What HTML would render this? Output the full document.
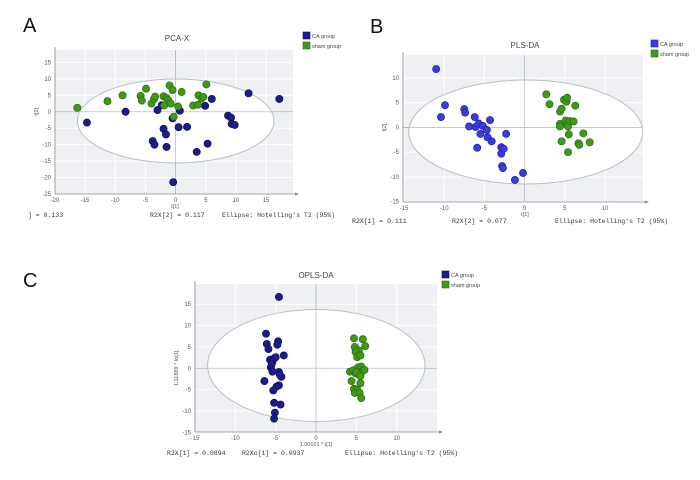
<!DOCTYPE html>
<html><head><meta charset="utf-8"><style>
html,body{margin:0;padding:0;background:#fff;}
svg{display:block;font-family:"Liberation Sans",sans-serif;}
.mono{font-family:"Liberation Mono",monospace;font-size:6.5px;fill:#333;}
</style></head><body>
<svg id="fig" width="700" height="480" viewBox="0 0 700 480"></svg>
<script>
// Panel A (PCA-X) data
const aCaX=[-14.7,-8.3,-3,-2.3,-0.5,0.7,0.5,1.9,-2,-1.6,-3.8,-3.5,-1.5,3.5,5.3,4.9,6,8.7,9.2,9.3,9.8,12.1,17.2,-0.4];
const aCaY=[-3.3,0,0.5,2,-2,0.3,-4.7,-4.6,-5.2,-6.9,-8.9,-10,-10.7,-12.2,-9.7,1.8,3.9,-1.2,-1.8,-3.7,-4,5.6,3.9,-21.4];
const aShX=[-16.3,-11.3,-8.8,-5.8,-5.6,-4.9,-4,-3.6,-3.4,-2,-1.5,-1.2,-1,-0.8,-0.5,-0.3,1,0.4,2.9,3.7,3.8,4.3,4.6,5.1,-1.9];
const aShY=[1.2,3.2,5,4.8,3.4,7,2.5,3.8,4.6,4.7,4.2,3.5,8,2.5,6.6,-1.5,6,1.6,1.9,2.1,5,4,4.5,8.3,1.9];
const aXTicks=[-20,-15,-10,-5,0,5,10,15];
const aYTicks=[15,10,5,0,-5,-10,-15,-20,-25];
// Panel B (PLS-DA) data
const bCaX=[-11,-10.4,-9.9,-7.5,-7.4,-6.9,-6.2,-6.1,-5.9,-5.7,-5.5,-5.2,-4.7,-4.6,-4.3,-4.1,-2.9,-2.9,-2.6,-2.3,-2.8,-2.7,-1.2,-0.2];
const bCaY=[11.8,2.1,4.5,3.7,3,0.2,2.1,0.1,-4.1,0.8,-1.3,0.3,-0.5,-2,1.5,-2.8,-4,-5.3,-4.3,-1.3,-7.8,-8.2,-10.6,-9.2];
const bShX=[2.7,3.1,4.4,4.6,4.4,4.4,4.6,4.9,5.2,5.3,5.1,5.3,5.4,5.5,5.4,5.6,6.1,6.3,6.7,6.8,7.3,8.1];
const bShY=[6.7,4.7,3.2,3.8,0.7,0.2,-2.8,5.6,5.2,6,1.4,0.6,0.2,-1.4,-5,1.3,1.2,4.4,-3.2,-3.5,-1.2,-3];
const bXTicks=[-15,-10,-5,0,5,10];
const bYTicks=[10,5,0,-5,-10,-15];
// Panel C (OPLS-DA) data
const cCaX=[-4.6,-6.2,-6.1,-5.9,-4.7,-4.8,-4,-5.7,-5.2,-5.4,-5,-5.6,-5.4,-4.6,-4.3,-6.4,-4.6,-4.9,-5.3,-5.2,-4.4,-5.1,-5.2,-5.5,-4.5];
const cCaY=[16.7,8.1,5.7,4.5,6.3,5.5,3,2,2.3,1.5,2.6,0.2,-0.8,-0.9,-2,-3,-4,-4.3,-5.2,-8.1,-8.5,-10.4,-11.8,1,-1.5];
const cShX=[4.7,5.8,6.1,4.8,5.3,4.9,5.1,5.5,4.2,4.6,5.2,5.6,5.8,6,4.9,5.3,4.4,5.5,4.7,5.1,4.8,5.4,5.6,5,5.5];
const cShY=[7,6.8,5.2,5,4.2,3.8,2.6,3,-0.8,-0.5,0.2,0.4,-0.6,-0.4,-1.2,-1.5,-3,-3.5,-4.8,-5,-5.8,-5.8,-7,-0.9,-1.8];
const cXTicks=[-15,-10,-5,0,5,10];
const cYTicks=[15,10,5,0,-5,-10,-15];

const NS='http://www.w3.org/2000/svg';
const svg=document.getElementById('fig');
function mk(tag,attrs,parent,txt){const e=document.createElementNS(NS,tag);for(const k in attrs)e.setAttribute(k,attrs[k]);if(txt!==undefined)e.textContent=txt;(parent||svg).appendChild(e);return e;}

function panel(p){
  const g=mk('g',{});
  
  
  const sx=v=>p.x0px+(v-p.xmin)*p.xs;
  const sy=v=>p.y0px-(v-p.ymin)*p.ys;
  // background
  const bg=mk('rect',{x:p.L,y:p.T,width:p.R-p.L,height:p.B-p.T,fill:'#eef0f3'},g);
  
  p.xt.forEach(t=>{mk('line',{x1:sx(t),x2:sx(t),y1:p.T,y2:p.B,stroke:'#fff','stroke-width':1},g);
    const tl=mk('text',{x:sx(t),y:p.B+8,'font-size':6,fill:'#555','text-anchor':'middle'},g,t);
    });
  p.yt.forEach(t=>{mk('line',{x1:p.L,x2:p.R,y1:sy(t),y2:sy(t),stroke:'#fff','stroke-width':1},g);
    const tl=mk('text',{x:p.L-4,y:sy(t)+2,'font-size':6,fill:'#555','text-anchor':'end'},g,t);
    });
  // axes
  mk('line',{x1:p.L,x2:p.R+4,y1:p.B,y2:p.B,stroke:'#888','stroke-width':0.8},g);
  mk('line',{x1:p.L,x2:p.L,y1:p.T-3,y2:p.B,stroke:'#888','stroke-width':0.8},g);
  mk('path',{d:`M${p.R+6} ${p.B} l-4 -1.5 v3z`,fill:'#888'},g);
  mk('line',{x1:sx(0),x2:sx(0),y1:p.T,y2:p.B,stroke:'#a8b0b8','stroke-width':0.8},g);
  mk('line',{x1:p.L,x2:p.R,y1:sy(0),y2:sy(0),stroke:'#a8b0b8','stroke-width':0.8},g);
  // ellipse
  const el=mk('ellipse',{cx:p.ecx,cy:p.ecy,rx:p.erx,ry:p.ery,fill:'#fff',stroke:'#b8c0c4','stroke-width':1},g);
  
  mk('line',{x1:sx(0),x2:sx(0),y1:p.ecy-p.ery,y2:p.ecy+p.ery,stroke:'#b8c4cc','stroke-width':0.8},g);
  mk('line',{x1:p.ecx-p.erx,x2:p.ecx+p.erx,y1:sy(0),y2:sy(0),stroke:'#b8c4cc','stroke-width':0.8},g);
  // points
  p.series.forEach(s=>{
    s.xs.forEach((v,i)=>{
      const c=mk('circle',{cx:sx(v),cy:sy(s.ys[i]),r:3.6,fill:s.col,stroke:s.edge,'stroke-width':0.7},g);
      
      
    });
  });
  // titles
  const tt=mk('text',{x:p.tx,y:p.ty,'font-size':8,fill:'#444','text-anchor':'middle'},g,p.title);
  
  const pl=mk('text',{x:p.lx,y:p.ly,'font-size':20,fill:'#111'},g,p.letter);
  
  const xl=mk('text',{x:p.xlx,y:p.B+14,'font-size':5.5,fill:'#555','text-anchor':'middle'},g,p.xlabel);
  
  const yl=mk('text',{x:0,y:0,'font-size':5.5,fill:'#555','text-anchor':'middle',transform:`translate(${p.L-17},${sy(0)}) rotate(-90)`},g,p.ylabel);
  
  // legend
  p.series.forEach((s,i)=>{
    const r=mk('rect',{x:p.lgx,y:p.lgy+i*10-3,width:7,height:7,fill:s.col,stroke:s.edge,'stroke-width':0.6},g);
    
    const t=mk('text',{x:p.lgx+9,y:p.lgy+i*10+3,'font-size':5.5,fill:'#444'},g,s.label);
    
  });
  p.stats.forEach(st=>{
    const t=mk('text',{x:st[0],y:p.sy,class:'mono'},g,st[1]);
    
  });
}
const navy='#1c1c8c', navyE='#0c0c5c', grn='#3f9a18', grnE='#2a6a10', blue='#3b3be0', blueE='#2020a0';
panel({name:'panel-a-pca',letter:'A',lx:23,ly:32,title:'PCA-X',tx:177,ty:41,
  L:55,R:293,T:50,B:194,xmin:-20,ymin:-25,x0px:55,y0px:194,xs:6.03,ys:3.29,
  ecx:175.7,ecy:121,erx:98.3,ery:42,xt:aXTicks,yt:aYTicks,xlabel:'t[1]',xlx:175,ylabel:'t[2]',
  lgx:303,lgy:35,sy:217,stats:[[28,'] = 0.133'],[150,'R2X[2] = 0.117'],[222,"Ellipse: Hotelling's T2 (95%)"]],
  series:[{xs:aCaX,ys:aCaY,col:navy,edge:navyE,label:'CA group',pname:'ca-point'},{xs:aShX,ys:aShY,col:grn,edge:grnE,label:'sham group',pname:'sham-point'}]});
panel({name:'panel-b-plsda',letter:'B',lx:370,ly:33,title:'PLS-DA',tx:525,ty:48,
  L:403,R:643,T:55,B:202,xmin:-15,ymin:-15,x0px:404,y0px:201.7,xs:8.04,ys:4.95,
  ecx:525.7,ecy:132,erx:117,ery:52,xt:bXTicks,yt:bYTicks,xlabel:'t[1]',xlx:525,ylabel:'t[2]',
  lgx:651,lgy:43,sy:223,stats:[[352,'R2X[1] = 0.111'],[452,'R2X[2] = 0.077'],[555,"Ellipse: Hotelling's T2 (95%)"]],
  series:[{xs:bCaX,ys:bCaY,col:blue,edge:blueE,label:'CA group',pname:'ca-point'},{xs:bShX,ys:bShY,col:grn,edge:grnE,label:'sham group',pname:'sham-point'}]});
panel({name:'panel-c-oplsda',letter:'C',lx:23,ly:287,title:'OPLS-DA',tx:316,ty:278,
  L:195,R:437,T:284,B:432,xmin:-15,ymin:-15,x0px:195,y0px:432.3,xs:8.07,ys:4.27,
  ecx:316.3,ecy:365.5,erx:108.7,ery:56,xt:cXTicks,yt:cYTicks,xlabel:'1.00101 * t[1]',xlx:316,ylabel:'1.11889 * to[1]',
  lgx:442,lgy:274,sy:455,stats:[[167,'R2X[1] = 0.0894'],[242,'R2Xo[1] = 0.0937'],[345,"Ellipse: Hotelling's T2 (95%)"]],
  series:[{xs:cCaX,ys:cCaY,col:navy,edge:navyE,label:'CA group',pname:'ca-point'},{xs:cShX,ys:cShY,col:grn,edge:grnE,label:'sham group',pname:'sham-point'}]});
</script>
</body></html>
